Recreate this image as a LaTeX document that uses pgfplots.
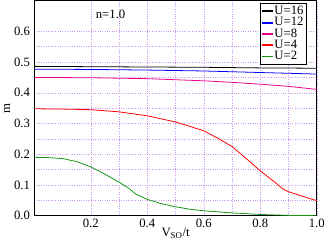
\documentclass[border=0pt]{standalone}
\usepackage{fontspec}
\setmainfont{Liberation Serif}
\usepackage{pgfplots}
\pgfplotsset{compat=1.18}
\definecolor{gridc}{RGB}{200,150,235}
\definecolor{ugreen}{RGB}{20,150,20}
\begin{document}
\fontsize{13}{14}\selectfont
\begin{tikzpicture}
\begin{axis}[
  scale only axis, width=289pt, height=220pt,
  xmin=0, xmax=1, ymin=0, ymax=0.7,
  xtick={0.2,0.4,0.6,0.8,1.0},
  xticklabels={0.2,0.4,0.6,0.8,1.0},
  ytick={0,0.1,0.2,0.3,0.4,0.5,0.6},
  yticklabels={0.0,0.1,0.2,0.3,0.4,0.5,0.6},
  minor x tick num=1, minor y tick num=1,
  grid=both,
  major grid style={gridc, dotted, line width=0.6pt},
  minor grid style={gridc, dotted, line width=0.6pt},
  axis line style={line width=1.3pt},
  tick style={draw=none},
  /pgf/number format/assume math mode=true,
  tick label style={font=\fontsize{13}{14}\selectfont},
  xticklabel style={yshift=1pt},
  xlabel={V$_{\mathrm{SO}}$/t}, ylabel={m},
  xlabel style={yshift=8pt},
  ylabel style={yshift=-5pt},
  legend style={at={(0.965,0.99)}, anchor=north east, draw=black, line width=1pt,
    font=\fontsize{13}{12}\selectfont, inner sep=1pt, row sep=-3pt, legend cell align=left},
  legend image code/.code={\fill[#1, draw=none] (0pt,-0.9pt) rectangle (11pt,0.9pt);},
]
\addplot[black, line width=0.8pt] coordinates {(0,0.486)(0.2,0.485)(0.4,0.484)(0.6,0.483)(0.8,0.481)(1.0,0.480)};
\addlegendentry{U=16}
\addplot[blue, line width=0.8pt] coordinates {(0,0.477)(0.2,0.476)(0.4,0.474)(0.6,0.471)(0.8,0.466)(1.0,0.461)};
\addlegendentry{U=12}
\addplot[magenta, line width=0.8pt] coordinates {(0,0.450)(0.2,0.449)(0.4,0.446)(0.6,0.439)(0.7,0.434)(0.8,0.428)(0.9,0.421)(1.0,0.411)};
\addlegendentry{U=8}
\addplot[red, line width=0.8pt] coordinates {(0,0.348)(0.1,0.347)(0.2,0.345)(0.3,0.338)(0.4,0.325)(0.5,0.305)(0.55,0.291)(0.6,0.276)(0.65,0.252)(0.7,0.225)(0.75,0.186)(0.8,0.146)(0.85,0.110)(0.88,0.087)(0.9,0.078)(0.95,0.063)(1.0,0.049)};
\addlegendentry{U=4}
\addplot[ugreen, line width=0.8pt] coordinates {(0,0.190)(0.05,0.189)(0.1,0.186)(0.15,0.176)(0.2,0.159)(0.25,0.135)(0.3,0.109)(0.33,0.092)(0.36,0.070)(0.4,0.053)(0.45,0.039)(0.5,0.029)(0.55,0.021)(0.6,0.016)(0.7,0.009)(0.8,0.004)(0.9,0.001)(1.0,0.0)};
\addlegendentry{U=2}
\node at (axis cs:0.27,0.655) {n=1.0};
\end{axis}
\end{tikzpicture}
\end{document}
